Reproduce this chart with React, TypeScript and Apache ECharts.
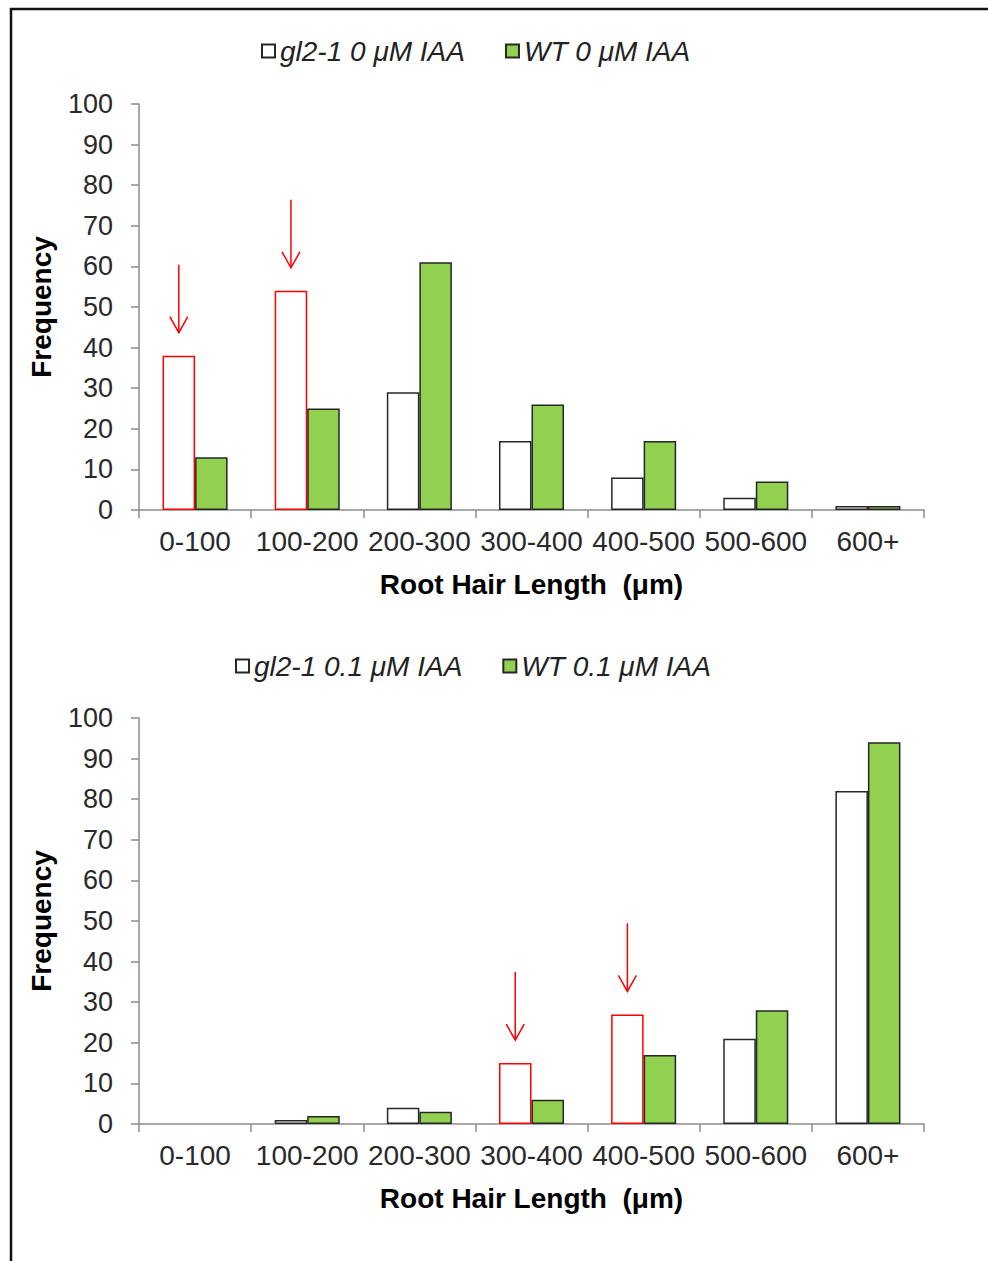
import React, { useEffect, useRef } from "react";
import * as echarts from "echarts";

const categories = ["0-100", "100-200", "200-300", "300-400", "400-500", "500-600", "600+"];
const yTicks = [0, 100, 10]; // min, max, interval

const topNames = ["gl2-1 0 μM IAA", "WT 0 μM IAA"];
const topGl2 = [38, 54, 29, 17, 8, 3, 1];
const topWT = [13, 25, 61, 26, 17, 7, 1];
const topArrows = [0, 1]; // category indices marked with red arrows

const botNames = ["gl2-1 0.1 μM IAA", "WT 0.1 μM IAA"];
const botGl2 = [0, 1, 4, 15, 27, 21, 82];
const botWT = [0, 2, 3, 6, 17, 28, 94];
const botArrows = [3, 4];

const xName = "Root Hair Length  (μm)";
const yName = "Frequency";

const FONT = "'Liberation Sans', Arial, sans-serif";
const GREEN = "#92D050";
const RED = "#FF0000";
const DARK = "#262626";
const AXIS = "#8C8C8C";
const GAP = 0.42;

function barData(vals: number[], arrows: number[]) {
  return vals.map((v, i) => {
    if (v === 0) return { value: v, itemStyle: { borderWidth: 0 } };
    if (arrows.includes(i)) return { value: v, itemStyle: { borderColor: RED } };
    return { value: v };
  });
}

function arrowRender(params: any, api: any) {
  const idx = api.value(0);
  const v = api.value(1);
  const pt = api.coord([idx, v]);
  const bw = api.size([1, 0])[0];
  const x = pt[0] - (bw * (1 - GAP)) / 4;
  const tipY = pt[1] - 23;
  const topY = tipY - 68;
  return {
    type: "group",
    children: [
      {
        type: "line",
        shape: { x1: x, y1: topY, x2: x, y2: tipY },
        style: { stroke: RED, lineWidth: 1.5 },
      },
      {
        type: "polyline",
        shape: { points: [[x - 9, tipY - 16], [x, tipY], [x + 9, tipY - 16]] },
        style: { stroke: RED, fill: "none", lineWidth: 1.5 },
      },
    ],
  };
}

function xAxis(gridIndex: number) {
  return {
    type: "category",
    gridIndex,
    data: categories,
    axisLine: { lineStyle: { color: AXIS, width: 1.5 } },
    axisTick: { show: true, length: 8, lineStyle: { color: AXIS, width: 1.5 } },
    axisLabel: { color: "#2a2a2a", fontSize: 28, fontFamily: FONT, margin: 17, interval: 0 },
    name: xName,
    nameLocation: "middle",
    nameGap: 60,
    nameTextStyle: { color: "#000", fontSize: 28, fontWeight: "bold", fontFamily: FONT },
  };
}

function yAxis(gridIndex: number) {
  return {
    type: "value",
    gridIndex,
    min: yTicks[0],
    max: yTicks[1],
    interval: yTicks[2],
    splitLine: { show: false },
    axisLine: { show: true, lineStyle: { color: AXIS, width: 1.5 } },
    axisTick: { show: true, length: 8, lineStyle: { color: AXIS, width: 1.5 } },
    axisLabel: { color: "#2a2a2a", fontSize: 27, fontFamily: FONT, margin: 26 },
    name: yName,
    nameLocation: "middle",
    nameGap: 84,
    nameTextStyle: { color: "#000", fontSize: 28, fontWeight: "bold", fontFamily: FONT },
  };
}

export default function App() {
  const ref = useRef<HTMLDivElement>(null);
  useEffect(() => {
    document.body.style.margin = "0";
    if (!ref.current) return;
    const chart = echarts.init(ref.current, undefined, { renderer: "svg" });
    const legendText = { fontSize: 28, fontStyle: "italic", fontFamily: FONT, color: "#222" };
    const gl2Style = { color: "#fff", borderColor: DARK, borderWidth: 1.5 };
    const wtStyle = { color: GREEN, borderColor: DARK, borderWidth: 1.5 };
    chart.setOption({
      animation: false,
      backgroundColor: "#fff",
      grid: [
        { left: 139, top: 104, width: 785, height: 406 },
        { left: 139, top: 718, width: 785, height: 406 },
      ],
      legend: [
        {
          data: topNames,
          left: 256,
          top: 32,
          icon: "rect",
          itemWidth: 13,
          itemHeight: 13,
          itemGap: 40,
          textStyle: legendText,
        },
        {
          data: botNames,
          left: 230,
          top: 647,
          icon: "rect",
          itemWidth: 13,
          itemHeight: 13,
          itemGap: 40,
          textStyle: legendText,
        },
      ],
      xAxis: [xAxis(0), xAxis(1)],
      yAxis: [yAxis(0), yAxis(1)],
      series: [
        {
          name: topNames[0],
          type: "bar",
          xAxisIndex: 0,
          yAxisIndex: 0,
          data: barData(topGl2, topArrows),
          itemStyle: gl2Style,
          barCategoryGap: GAP * 100 + "%",
          barGap: "0%",
        },
        {
          name: topNames[1],
          type: "bar",
          xAxisIndex: 0,
          yAxisIndex: 0,
          data: barData(topWT, []),
          itemStyle: wtStyle,
          barCategoryGap: GAP * 100 + "%",
          barGap: "0%",
        },
        {
          name: botNames[0],
          type: "bar",
          xAxisIndex: 1,
          yAxisIndex: 1,
          data: barData(botGl2, botArrows),
          itemStyle: gl2Style,
          barCategoryGap: GAP * 100 + "%",
          barGap: "0%",
        },
        {
          name: botNames[1],
          type: "bar",
          xAxisIndex: 1,
          yAxisIndex: 1,
          data: barData(botWT, []),
          itemStyle: wtStyle,
          barCategoryGap: GAP * 100 + "%",
          barGap: "0%",
        },
        {
          type: "custom",
          xAxisIndex: 0,
          yAxisIndex: 0,
          clip: false,
          silent: true,
          renderItem: arrowRender,
          data: topArrows.map((i) => [i, topGl2[i]]),
        },
        {
          type: "custom",
          xAxisIndex: 1,
          yAxisIndex: 1,
          clip: false,
          silent: true,
          renderItem: arrowRender,
          data: botArrows.map((i) => [i, botGl2[i]]),
        },
      ],
      graphic: [
        {
          type: "rect",
          shape: { x: 11, y: 9, width: 1000, height: 1300 },
          style: { fill: "none", stroke: "#111", lineWidth: 2.5 },
          silent: true,
        },
      ],
    });
    return () => chart.dispose();
  }, []);
  return <div ref={ref} style={{ width: 988, height: 1261 }} />;
}
